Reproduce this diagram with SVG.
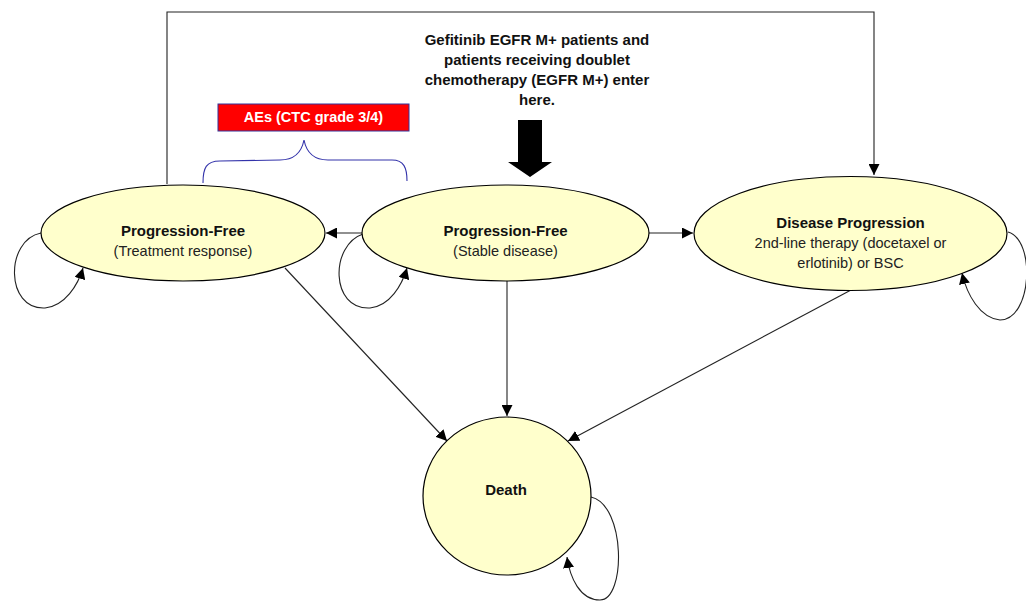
<svg xmlns="http://www.w3.org/2000/svg" width="1026" height="601" viewBox="0 0 1026 601">
<style>
.node{fill:#FFFFCC;stroke:#000;stroke-width:1.2}
.conn{fill:none;stroke:#222;stroke-width:1.1}
.b{font-family:"Liberation Sans",Arial,sans-serif;font-weight:bold;font-size:15px;fill:#111;text-anchor:middle}
.r{font-family:"Liberation Sans",Arial,sans-serif;font-size:14.5px;fill:#222;text-anchor:middle}
</style>
<defs>
<marker id="ah" markerUnits="userSpaceOnUse" markerWidth="11" markerHeight="11" refX="11" refY="5.5" orient="auto" viewBox="0 0 11 11">
<path d="M0,0 L11,5.5 L0,11 z" fill="#000"/>
</marker>
</defs>
<rect width="1026" height="601" fill="#fff"/>
<g id="connectors">
<path class="conn" d="M167,184 V12 H874 V175" marker-end="url(#ah)"/>
<path class="conn" d="M362,233 H326" marker-end="url(#ah)"/>
<path class="conn" d="M649,233 H693" marker-end="url(#ah)"/>
<path class="conn" d="M507,281 V416" marker-end="url(#ah)"/>
<path class="conn" d="M285,268 L447,441" marker-end="url(#ah)"/>
<path class="conn" d="M851,290 L568,441" marker-end="url(#ah)"/>
<path class="conn" d="M41,233 C5,240 5,310 45,308 C65,306 78,285 83,268" marker-end="url(#ah)"/>
<path class="conn" d="M363,234 C330,245 330,310 370,308 C390,306 402,285 407,268" marker-end="url(#ah)"/>
<path class="conn" d="M1008,232 C1036,240 1032,320 1000,320 C980,318 967,295 962,273" marker-end="url(#ah)"/>
<path class="conn" d="M591,497 C626,505 626,600 600,600 C580,600 570,578 567,557" marker-end="url(#ah)"/>
</g>
<g id="pf-response">
<ellipse class="node" cx="183" cy="233" rx="142" ry="48"/>
<text class="b" x="183" y="236">Progression-Free</text>
<text class="r" x="183" y="256">(Treatment response)</text>
</g>
<g id="pf-stable">
<ellipse class="node" cx="505.5" cy="233" rx="143.5" ry="48"/>
<text class="b" x="505.5" y="236">Progression-Free</text>
<text class="r" x="505.5" y="256">(Stable disease)</text>
</g>
<g id="disease-progression">
<ellipse class="node" cx="850.5" cy="233.5" rx="156.5" ry="57"/>
<text class="b" x="850.5" y="228">Disease Progression</text>
<text class="r" x="850.5" y="248">2nd-line therapy (docetaxel or</text>
<text class="r" x="850.5" y="268">erlotinib) or BSC</text>
</g>
<g id="death">
<ellipse class="node" cx="507" cy="496" rx="84" ry="79"/>
<text class="b" x="506" y="495">Death</text>
</g>
<g id="entry">
<text class="b" x="537" y="45">Gefitinib EGFR M+ patients and</text>
<text class="b" x="537" y="65">patients receiving doublet</text>
<text class="b" x="537" y="85">chemotherapy (EGFR M+) enter</text>
<text class="b" x="537" y="105">here.</text>
<path d="M518,120 H542 V162 H552 L530,177 L508,162 H518 z" fill="#000"/>
</g>
<g id="aes">
<rect x="218" y="104" width="191" height="27" fill="#FF0000" stroke="#333399" stroke-width="1"/>
<text class="b" x="313.5" y="122" style="fill:#fff;font-size:14.5px">AEs (CTC grade 3/4)</text>
<path d="M203,183 C203,168 206,161 220,161 L280,160 C296,160 302,150 304,140 C306,150 312,160 328,160 L392,160 C404,160 407,168 407,181" fill="none" stroke="#3333AA" stroke-width="1.1"/>
</g>
</svg>
